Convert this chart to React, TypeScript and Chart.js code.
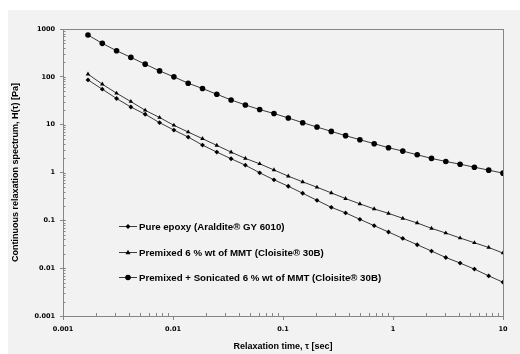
import React, { useEffect, useRef } from "react";
import { Chart, registerables } from "chart.js";
Chart.register(...registerables);

const tau = [
  0.001687, 0.002275, 0.003069, 0.00414, 0.005585, 0.00755, 0.01019, 0.01374, 0.01854, 0.02501,
  0.03373, 0.0455, 0.06138, 0.0828, 0.1117, 0.151, 0.2037, 0.2748, 0.3707, 0.5,
  0.6745, 0.91, 1.227, 1.66, 2.239, 3.02, 4.074, 5.495, 7.413, 10,
];
const pureEpoxy = [
  86.3, 55.1, 35.2, 23.4, 16.5, 11.0, 7.72, 5.51, 3.74, 2.67,
  1.94, 1.42, 0.986, 0.703, 0.516, 0.368, 0.262, 0.187, 0.143, 0.105,
  0.0773, 0.057, 0.0419, 0.0309, 0.0228, 0.0167, 0.0128, 0.00955, 0.0069, 0.00509,
];
const premixed = [
  113.7, 70.2, 45.4, 30.4, 20.0, 14.1, 9.69, 7.01, 5.09, 3.69,
  2.67, 1.97, 1.52, 1.13, 0.837, 0.638, 0.492, 0.375, 0.285, 0.221,
  0.173, 0.14, 0.11, 0.0881, 0.0679, 0.0543, 0.0427, 0.034, 0.0271, 0.0207,
];
const sonicated = [
  748, 501, 351, 255, 184, 133, 99.8, 73.6, 57.0, 43.3,
  32.9, 25.8, 20.7, 17.1, 13.8, 11.0, 8.92, 7.24, 5.89, 4.85,
  4.0, 3.3, 2.8, 2.35, 1.97, 1.7, 1.49, 1.29, 1.12, 0.97,
];
const seriesLabels = [
  "Pure epoxy (Araldite® GY 6010)",
  "Premixed 6 % wt of MMT (Cloisite® 30B)",
  "Premixed + Sonicated 6 % wt of MMT (Cloisite® 30B)",
];
const seriesMarkers = ["rectRot", "triangle", "circle"];
const xTicks = [0.001, 0.01, 0.1, 1, 10];
const xTickLabels = ["0.001", "0.01", "0.1", "1", "10"];
const yTicks = [0.001, 0.01, 0.1, 1, 10, 100, 1000];
const yTickLabels = ["0.001", "0.01", "0.1", "1", "10", "100", "1000"];
const xTitle = "Relaxation time, τ [sec]";
const yTitle = "Continuous relaxation spectrum, H(τ) [Pa]";

const LINE = "#3a3a3a";
const MARK = "#000000";
const AXIS = "#868686";
const TITLE_FONT = "bold 9px 'Liberation Sans Narrow', 'Liberation Sans', sans-serif";
const LEGEND_FONT = "bold 9.7px 'Liberation Sans Narrow', 'Liberation Sans', sans-serif";
const TICK_FONT = { family: "'DejaVu Sans', sans-serif", size: 6.5, weight: "bold" as const };

function drawMarker(ctx: CanvasRenderingContext2D, style: string, x: number, y: number, r: number) {
  ctx.beginPath();
  if (style === "circle") {
    ctx.arc(x, y, r, 0, Math.PI * 2);
  } else if (style === "triangle") {
    ctx.moveTo(x, y - r * 1.1);
    ctx.lineTo(x + r, y + r * 0.7);
    ctx.lineTo(x - r, y + r * 0.7);
    ctx.closePath();
  } else {
    ctx.moveTo(x, y - r);
    ctx.lineTo(x + r, y);
    ctx.lineTo(x, y + r);
    ctx.lineTo(x - r, y);
    ctx.closePath();
  }
  ctx.fill();
}

const decorPlugin = {
  id: "decor",
  afterDraw(chart: any) {
    const ctx: CanvasRenderingContext2D = chart.ctx;
    const { left, right, top, bottom } = chart.chartArea;
    const xs = chart.scales.x;
    const ys = chart.scales.y;
    ctx.save();
    // frame
    ctx.strokeStyle = AXIS;
    ctx.lineWidth = 1;
    ctx.strokeRect(Math.round(left) + 0.5, Math.round(top) + 0.5, Math.round(right - left), Math.round(bottom - top));
    // minor ticks
    ctx.beginPath();
    for (let d = -3; d < 1; d++) {
      for (let k = 2; k <= 9; k++) {
        const v = k * Math.pow(10, d);
        const px = Math.round(xs.getPixelForValue(v)) + 0.5;
        ctx.moveTo(px, bottom);
        ctx.lineTo(px, bottom - 3);
      }
    }
    for (let d = -3; d < 3; d++) {
      for (let k = 2; k <= 9; k++) {
        const v = k * Math.pow(10, d);
        const py = Math.round(ys.getPixelForValue(v)) + 0.5;
        ctx.moveTo(left, py);
        ctx.lineTo(left + 2.5, py);
      }
    }
    ctx.stroke();
    // major ticks inside the left axis
    ctx.beginPath();
    for (const v of yTicks) {
      const py = Math.round(ys.getPixelForValue(v)) + 0.5;
      ctx.moveTo(left, py);
      ctx.lineTo(left + 3, py);
    }
    ctx.stroke();

    // titles
    ctx.fillStyle = "#000";
    ctx.font = TITLE_FONT;
    ctx.textAlign = "center";
    ctx.textBaseline = "middle";
    ctx.fillText(xTitle, (left + right) / 2, 337);
    ctx.save();
    ctx.translate(8, (top + bottom) / 2);
    ctx.rotate(-Math.PI / 2);
    ctx.fillText(yTitle, 0, 0);
    ctx.restore();

    // legend
    const rows = [216, 242, 267];
    ctx.font = LEGEND_FONT;
    chart.data.datasets.forEach((ds: any, i: number) => {
      const y = rows[i];
      ctx.strokeStyle = LINE;
      ctx.lineWidth = 1;
      ctx.beginPath();
      ctx.moveTo(111, y + 0.5);
      ctx.lineTo(129, y + 0.5);
      ctx.stroke();
      ctx.fillStyle = MARK;
      drawMarker(ctx, seriesMarkers[i], 120, y + 0.5, i === 2 ? 2.8 : 2.5);
      ctx.fillStyle = "#000";
      ctx.textAlign = "left";
      ctx.fillText(ds.label, 131, y + 1);
    });
    ctx.restore();
  },
};

export default function App() {
  const ref = useRef<HTMLCanvasElement | null>(null);
  useEffect(() => {
    if (!ref.current) return;
    const mk = (vals: number[]) => vals.map((v, i) => ({ x: tau[i], y: v }));
    const chart = new Chart(ref.current, {
      type: "line",
      data: {
        datasets: [pureEpoxy, premixed, sonicated].map((vals, i) => ({
          label: seriesLabels[i],
          data: mk(vals),
          borderColor: LINE,
          backgroundColor: MARK,
          borderWidth: 1,
          pointStyle: seriesMarkers[i] as any,
          pointRadius: i === 2 ? 2.8 : i === 1 ? 2.6 : 2.4,
          pointBorderWidth: 0,
          pointBackgroundColor: MARK,
          tension: 0,
        })),
      },
      options: {
        animation: false,
        responsive: false,
        devicePixelRatio: 1,
        layout: { padding: { top: 19, right: 17, left: 0, bottom: 0 } },
        plugins: { legend: { display: false }, tooltip: { enabled: false } },
        scales: {
          x: {
            type: "logarithmic",
            min: 0.001,
            max: 10,
            afterBuildTicks: (s: any) => {
              s.ticks = xTicks.map((v) => ({ value: v }));
            },
            afterFit: (s: any) => {
              s.height = 38;
            },
            ticks: {
              autoSkip: false,
              maxRotation: 0,
              padding: 5,
              color: "#000",
              font: TICK_FONT,
              callback: (_v: any, i: number) => xTickLabels[i],
            },
            grid: { drawOnChartArea: false, drawTicks: true, tickLength: 4, color: AXIS },
            border: { color: AXIS },
          },
          y: {
            type: "logarithmic",
            min: 0.001,
            max: 1000,
            afterBuildTicks: (s: any) => {
              s.ticks = yTicks.map((v) => ({ value: v }));
            },
            afterFit: (s: any) => {
              s.width = 55;
            },
            ticks: {
              autoSkip: false,
              padding: 5,
              color: "#000",
              font: TICK_FONT,
              callback: (_v: any, i: number) => yTickLabels[i],
            },
            grid: { drawOnChartArea: false, drawTicks: true, tickLength: 3, color: AXIS },
            border: { color: AXIS },
          },
        },
      },
      plugins: [decorPlugin],
    } as any);
    return () => chart.destroy();
  }, []);
  return (
    <div
      style={{
        position: "fixed",
        left: 8,
        top: 10,
        width: 512,
        height: 344,
        background: "#f2f2f2",
      }}
    >
      <canvas ref={ref} width={512} height={344} style={{ display: "block", width: 512, height: 344 }} />
    </div>
  );
}
